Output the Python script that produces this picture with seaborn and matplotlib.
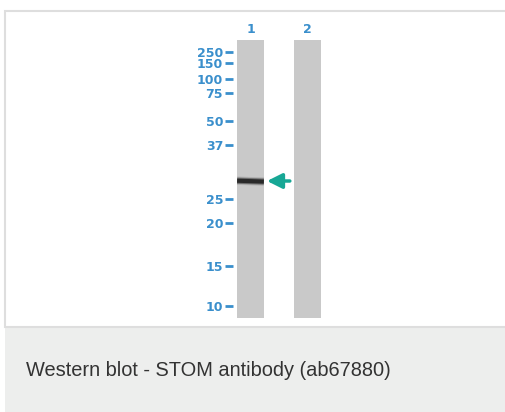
import matplotlib
matplotlib.use("Agg")
import matplotlib.pyplot as plt
import seaborn as sns
import pandas as pd
from matplotlib.patches import Rectangle

# blot data (migration measured from the top of the wells, in image pixels)
lanes = ["1", "2"]
lane_length = [278, 278]
marker_labels = ["250", "150", "100", "75", "50", "37", "25", "20", "15", "10"]
marker_pos = [12, 23, 39, 53, 81, 105, 159, 183, 226, 266]
band_lane = 0
band_pos = 141
caption = "Western blot - STOM antibody (ab67880)"

BLUE = "#3a8fcc"
TEAL = "#17a795"
LANE_GREY = "#c9c9c9"

sns.set_style("white")
plt.rcParams["font.family"] = ["Liberation Sans", "DejaVu Sans"]

W, H = 506, 412
fig = plt.figure(figsize=(W / 100, H / 100), dpi=100)
fig.patch.set_facecolor("white")

# outer frame and caption panel
fig.patches.append(Rectangle((5 / W, -0.1), 1.1, 0.1 + 1 - 327 / H, transform=fig.transFigure,
                             facecolor="#edeeed", edgecolor="none", zorder=-6))
fig.patches.append(Rectangle((5 / W, 1 - 326.5 / H), 1.1, 316 / H, transform=fig.transFigure,
                             facecolor="white", edgecolor="#dedede", linewidth=1.5, zorder=-5))
fig.text(26 / W, 1 - 370 / H, caption, fontsize=14.4, color="#333333", va="center", ha="left",
         family=["Liberation Sans", "DejaVu Sans"])

ax = fig.add_axes([233.5 / W, 1 - 318 / H, (340 - 233.5) / W, 278 / H])
ax.patch.set_alpha(0)

df = pd.DataFrame({"lane": lanes, "length": lane_length})
sns.barplot(data=df, x="lane", y="length", color=LANE_GREY, width=0.47, saturation=1,
            ax=ax, linewidth=0)

# band in lane 1 (slightly smeared, thicker on the left)
half = 0.47 / 2
for lw, a in [(6, 0.15), (4.5, 0.45), (3, 0.9)]:
    ax.plot([band_lane - half, band_lane + half], [band_pos - 0.3, band_pos + 0.6],
            color="#222222", lw=lw, alpha=a, solid_capstyle="butt")

# arrow pointing at the band
ax.annotate("", xy=(band_lane + 0.29, band_pos), xytext=(band_lane + 0.69, band_pos),
            arrowprops=dict(arrowstyle="-|>,head_length=0.9,head_width=0.45",
                            color=TEAL, lw=2.5, shrinkA=0, shrinkB=0, mutation_scale=10),
            annotation_clip=False)

ax.set_ylim(278, 0)
ax.set_xlim(-17 / 57, (340 - 250.5) / 57)
ax.set_yticks(marker_pos, marker_labels)
ax.tick_params(axis="y", length=6, width=2, color=BLUE, pad=1.5, labelcolor=BLUE,
               labelsize=9, left=True)
ax.xaxis.tick_top()
ax.tick_params(axis="x", length=0, pad=3, labelcolor=BLUE, labelsize=9)
ax.set_xlabel("")
ax.set_ylabel("")
for s in ax.spines.values():
    s.set_visible(False)
for t in ax.get_yticklabels() + ax.get_xticklabels():
    t.set_fontweight("bold")
    t.set_family(["DejaVu Sans"])

fig.savefig("out.png", dpi=100)
